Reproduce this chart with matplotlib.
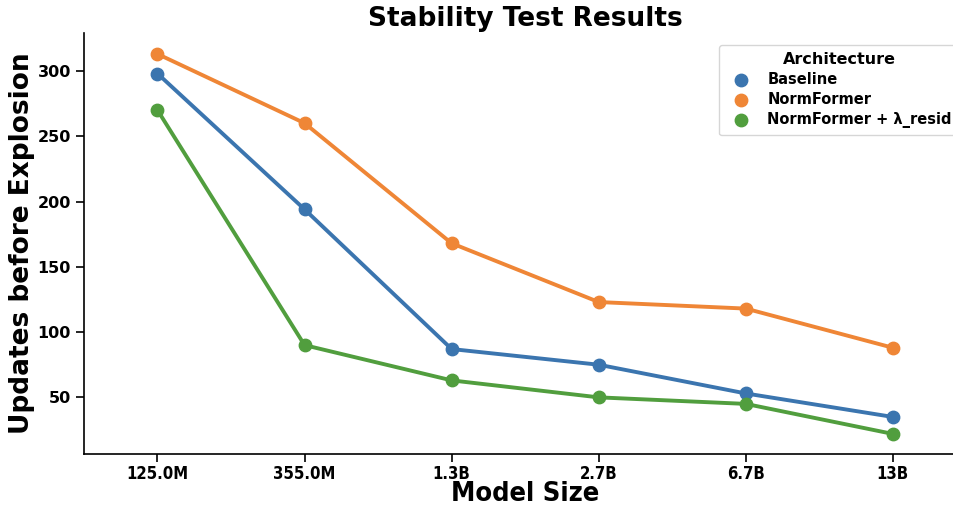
import numpy as np
import matplotlib.pyplot as plt

sizes = ['125.0M', '355.0M', '1.3B', '2.7B', '6.7B', '13B']
baseline = [298, 194, 87, 75, 53, 35]
normformer = [313, 260, 168, 123, 118, 88]
normformer_resid = [270, 90, 63, 50, 45, 22]

series = [('Baseline', baseline, '#3b75af'),
          ('NormFormer', normformer, '#ef8636'),
          ('NormFormer + λ_resid', normformer_resid, '#519e3e')]

fig = plt.figure(figsize=(9.54, 5.09), dpi=100)
ax = fig.add_axes([0.088, 0.108, 0.925, 0.827])

x = np.arange(len(sizes))
for name, vals, col in series:
    ax.plot(x, vals, color=col, lw=2.8, zorder=2)
    ax.scatter(x, vals, color=col, s=80, zorder=3, label=name)

ax.set_xlim(-0.5, len(sizes) - 0.5)
ax.set_ylim(6.6, 329)
ax.set_xticks(x)
ax.set_xticklabels(sizes, fontweight='bold', fontsize=12, fontstretch='condensed')
ax.set_yticks([50, 100, 150, 200, 250, 300])
for lab in ax.get_yticklabels():
    lab.set_fontweight('bold')
    lab.set_fontsize(11.5)
ax.tick_params(axis='both', length=6, width=1.2)
ax.tick_params(axis='x', pad=2)
for s in ['top', 'right']:
    ax.spines[s].set_visible(False)
for s in ['left', 'bottom']:
    ax.spines[s].set_linewidth(1.2)

ax.set_title('Stability Test Results', fontsize=19, fontweight='bold', pad=5)
ax.set_xlabel('Model Size', fontsize=19.5, fontweight='bold', fontstretch='condensed', labelpad=-1.5)
ax.set_ylabel('Updates before Explosion', fontsize=19, fontweight='bold', labelpad=2)

leg = ax.legend(title='Architecture', loc='upper right', bbox_to_anchor=(1.0, 0.99),
                prop={'weight': 'bold', 'size': 10.5}, title_fontproperties={'weight': 'bold', 'size': 11.5},
                handletextpad=0.8, borderpad=0.5, labelspacing=0.35)

fig.savefig('out.png', dpi=100)
